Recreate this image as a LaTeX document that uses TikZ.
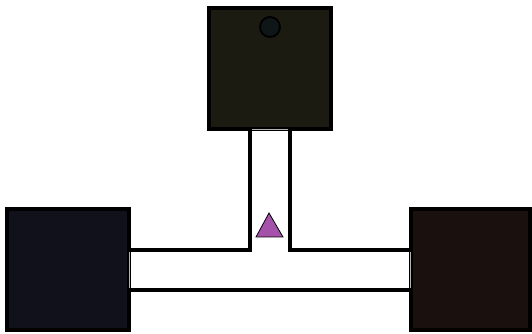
\documentclass[tikz,border=0pt]{standalone}
\usepackage{tikz}
\definecolor{roomtop}{HTML}{1C1B12}
\definecolor{roomleft}{HTML}{10111A}
\definecolor{roomright}{HTML}{1A100E}
\definecolor{knob}{HTML}{0F1617}
\definecolor{marker}{HTML}{A452AA}
\tikzset{
  room/.style={draw=black,line width=2.6pt},
  wall/.style={draw=black,line width=3pt},
  door/.style={draw=gray!60,line width=1.4pt}
}
\begin{document}
\begin{tikzpicture}[x=0.75pt,y=-0.75pt]
  \useasboundingbox (0,0) rectangle (532,334);
  \fill[white] (0,0) rectangle (532,334);
  % rooms
  \draw[room,fill=roomtop] (209,8) rectangle (331,129);
  \draw[room,fill=roomleft] (7,209) rectangle (129,330);
  \draw[room,fill=roomright] (411,209) rectangle (530,330);
  \draw[line width=1.4pt,fill=knob] (270,27) circle (10);
  % corridors
  \draw[wall] (250,130) -- (250,250) -- (130,250);
  \draw[wall] (290,130) -- (290,250) -- (410,250);
  \draw[wall] (130,290) -- (410,290);
  % openings
  \draw[door] (252,129.5) -- (288,129.5);
  \draw[door] (129.5,252) -- (129.5,288);
  \draw[door] (410.5,252) -- (410.5,288);
  % marker
  \draw[line width=0.6pt,fill=marker] (269,213) -- (283,237) -- (256,237) -- cycle;
\end{tikzpicture}
\end{document}
